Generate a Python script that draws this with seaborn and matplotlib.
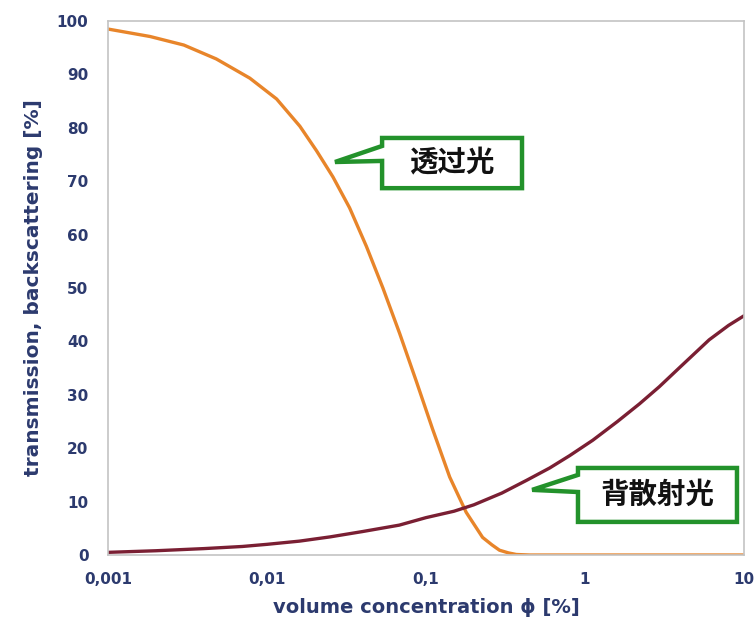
import matplotlib
matplotlib.use("Agg")
import matplotlib.pyplot as plt
import seaborn as sns
from matplotlib.patches import Polygon

# Transmission curve
conc_trans = [0.001, 0.00184, 0.003, 0.0048, 0.0078, 0.0115, 0.0161, 0.0205, 0.026,
              0.0331, 0.0422, 0.0536, 0.0683, 0.0868, 0.110, 0.141, 0.179, 0.227,
              0.26, 0.29, 0.33, 0.37, 0.45, 1, 10]
transmission = [98.5, 97.1, 95.5, 92.9, 89.3, 85.4, 80.3, 75.7, 70.8,
                65.0, 57.8, 50.0, 41.5, 32.6, 23.6, 14.6, 8.0, 3.3,
                1.9, 0.9, 0.4, 0.1, 0.0, 0.0, 0.0]

# Backscattering curve
conc_back = [0.001, 0.002, 0.004, 0.007, 0.01, 0.016, 0.025, 0.04, 0.068, 0.1,
             0.15, 0.2, 0.3, 0.43, 0.6, 0.8, 1.12, 1.6, 2.2, 2.93, 4.0, 6.04, 8.0, 10]
backscatter = [0.5, 0.8, 1.2, 1.6, 2.0, 2.6, 3.4, 4.4, 5.6, 7.0,
               8.2, 9.4, 11.6, 14.0, 16.3, 18.6, 21.5, 25.0, 28.3, 31.5, 35.3, 40.3, 43.0, 44.8]

x_ticks = [0.001, 0.01, 0.1, 1, 10]
x_tick_labels = ['0,001', '0,01', '0,1', '1', '10']
y_ticks = [0, 10, 20, 30, 40, 50, 60, 70, 80, 90, 100]

navy = '#2c3a6e'
orange = '#e8852a'
wine = '#7a1f33'
green = '#23922b'
spine_grey = '#c4c4c4'

sns.set_style('white')
plt.rcParams['font.family'] = ['DejaVu Sans', 'Noto Sans CJK SC']

fig = plt.figure(figsize=(7.54, 6.37), dpi=100)
ax = fig.add_axes([0.1432, 0.1287, 0.8435, 0.8383])

sns.lineplot(x=conc_trans, y=transmission, color=orange, linewidth=2.4, ax=ax)
sns.lineplot(x=conc_back, y=backscatter, color=wine, linewidth=2.4, ax=ax)

ax.set_xscale('log')
ax.set_xlim(0.001, 10)
ax.set_ylim(0, 100)
ax.set_xticks(x_ticks)
ax.set_xticklabels(x_tick_labels)
ax.minorticks_off()
ax.set_yticks(y_ticks)

for lab in ax.get_xticklabels() + ax.get_yticklabels():
    lab.set_fontweight('bold')
    lab.set_color(navy)
    lab.set_fontsize(11)

ax.tick_params(axis='both', direction='out', length=5, width=1, color=spine_grey)
ax.tick_params(axis='y', pad=9)
ax.tick_params(axis='x', pad=7)

for s in ax.spines.values():
    s.set_color(spine_grey)
    s.set_linewidth(1.2)

ax.set_xlabel('volume concentration \u03d5 [%]', fontsize=14, color=navy,
              fontweight='bold', labelpad=8)
ax.set_ylabel('transmission, backscattering [%]', fontsize=14.5, color=navy,
              fontweight='bold', labelpad=10)


def callout(verts, text, tx, ty):
    poly = Polygon(verts, closed=True, transform=ax.transAxes, facecolor='white',
                   edgecolor=green, linewidth=3.2, joinstyle='miter', zorder=5,
                   clip_on=False)
    ax.add_patch(poly)
    ax.text(tx, ty, text, transform=ax.transAxes, ha='center', va='center',
            fontsize=20.5, fontweight='bold', color='#111111',
            family=['Noto Sans CJK SC', 'DejaVu Sans'], zorder=6)


callout([(0.431, 0.781), (0.651, 0.781), (0.651, 0.687), (0.431, 0.687),
         (0.431, 0.738), (0.357, 0.736), (0.431, 0.766)], '透过光', 0.541, 0.734)
callout([(0.739, 0.163), (0.989, 0.163), (0.989, 0.062), (0.739, 0.062),
         (0.739, 0.118), (0.667, 0.122), (0.739, 0.150)], '背散射光', 0.864, 0.112)

fig.savefig('out.png', dpi=100)
